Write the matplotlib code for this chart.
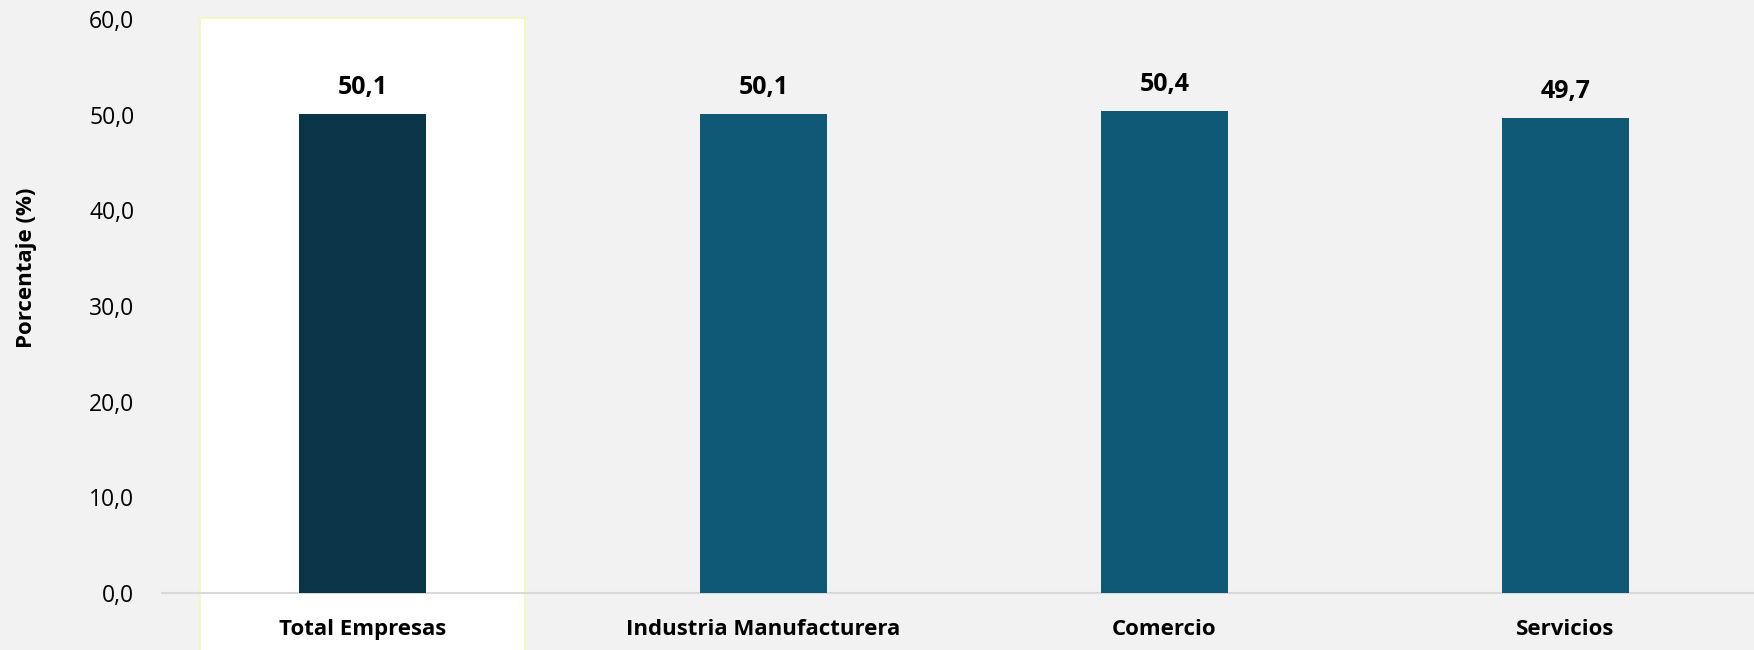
import matplotlib.pyplot as plt
from matplotlib.patches import Rectangle
from matplotlib.transforms import blended_transform_factory

plt.rcParams['font.family'] = ['Open Sans', 'DejaVu Sans']

categorias = ['Total Empresas', 'Industria Manufacturera', 'Comercio', 'Servicios']
valores = [50.1, 50.1, 50.4, 49.7]
colores = ['#0A3448', '#0F5876', '#0F5876', '#0F5876']
yticks = [0, 10, 20, 30, 40, 50, 60]

fondo = '#F2F2F2'
fig = plt.figure(figsize=(17.54, 6.5), dpi=100, facecolor=fondo)
ax = fig.add_axes([0.0924, 0.0877, 0.9076, 0.8831])
ax.set_facecolor(fondo)

x = list(range(len(categorias)))

# recuadro blanco que destaca "Total Empresas"
trans = blended_transform_factory(ax.transData, fig.transFigure)
caja = Rectangle((-0.405, -0.01), 0.81, 0.982, transform=trans,
                 facecolor='white', edgecolor='#F5F7B8', linewidth=1.2,
                 clip_on=False, zorder=0.5)
ax.add_patch(caja)

ax.bar(x, valores, width=0.315, color=colores, zorder=2)

for xi, v in zip(x, valores):
    ax.annotate(f'{v:.1f}'.replace('.', ','), (xi, v), xytext=(0, 10),
                textcoords='offset points', ha='center', va='bottom',
                fontsize=18, fontweight='bold', color='black')

ax.set_xlim(-0.5, 3.47)
ax.set_ylim(0, 60)
ax.set_yticks(yticks)
ax.set_yticklabels([f'{t:.1f}'.replace('.', ',') for t in yticks], fontsize=16.5)
ax.set_xticks(x)
ax.set_xticklabels(categorias, fontsize=16, fontweight='bold')
ax.tick_params(axis='y', length=0, pad=20)
ax.tick_params(axis='x', length=0, pad=19)

for s in ['top', 'right', 'left']:
    ax.spines[s].set_visible(False)
ax.spines['bottom'].set_color('#D9D9D9')
ax.spines['bottom'].set_linewidth(1.5)
ax.spines['bottom'].set_zorder(1)

ax.set_ylabel('Porcentaje (%)', fontsize=16, fontweight='bold')
ax.yaxis.set_label_coords(-0.0785, 0.566)

fig.savefig('out.png', dpi=100, facecolor=fondo)
